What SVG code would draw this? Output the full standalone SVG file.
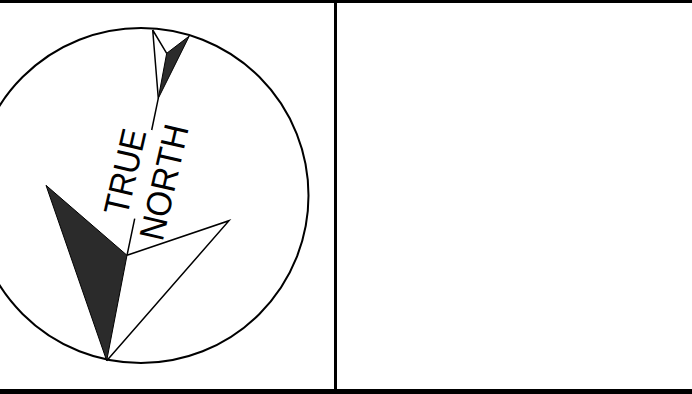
<svg xmlns="http://www.w3.org/2000/svg" width="692" height="394" viewBox="0 0 692 394">
<style>
.l{fill:none;stroke:#000;stroke-width:1.5}
.c{fill:none;stroke:#000;stroke-width:2}
.f{fill:#2b2b2b;stroke:#000;stroke-width:1}
.t{font-family:"Liberation Sans",Arial,sans-serif;font-size:32px;fill:#000}
</style>
<rect width="692" height="394" fill="#fff"/>
<g id="frame">
<rect x="0" y="0" width="692" height="3" fill="#000"/>
<rect x="0" y="389" width="692" height="5" fill="#000"/>
<rect x="334" y="0" width="3" height="394" fill="#000"/>
</g>
<g id="circle"><circle class="c" cx="141" cy="195.5" r="167.5"/></g>
<g id="small-arrow">
<path class="f" d="M189.3 36L166.7 53.3L158.3 98.3Z"/>
<path class="l" d="M152.7 30L166.7 53.3M152.7 30L158.3 98.3L151.7 130"/>
</g>
<g id="big-arrow">
<path class="f" d="M46 185.3L127 255.3L106.7 360.7Z"/>
<path class="l" d="M127 255.3L229 220.7L106.7 360.7M127 255.3L134.7 218.7"/>
</g>
<g id="labels">
<text class="t" transform="translate(127 217) rotate(-77) scale(1 1.09)">TRUE</text>
<text class="t" transform="translate(162.5 242.3) rotate(-77) scale(1.04 1.09)">NORTH</text>
</g>
</svg>
